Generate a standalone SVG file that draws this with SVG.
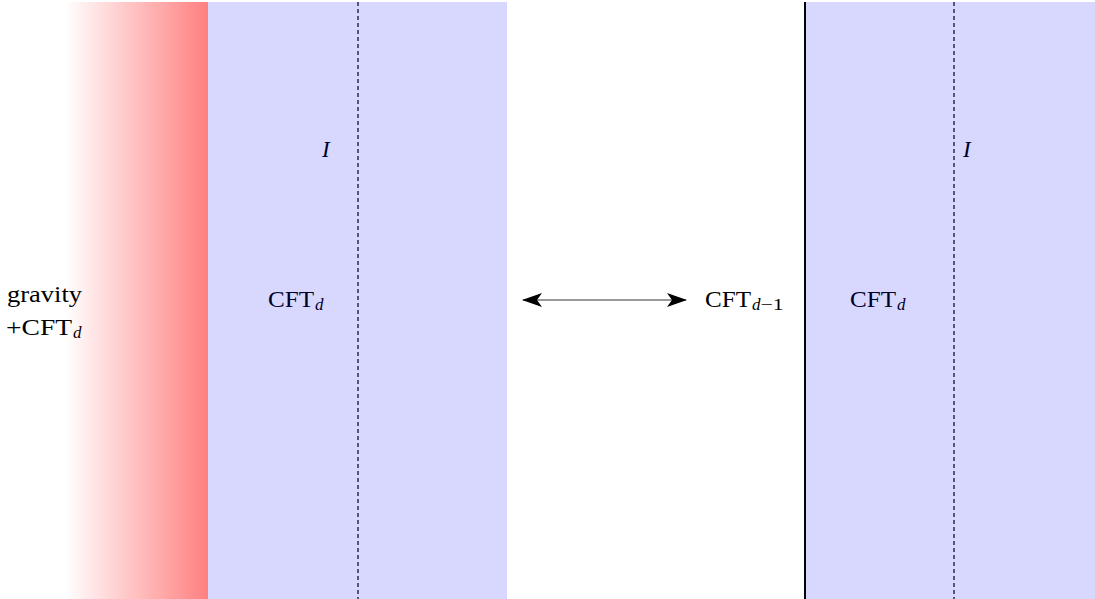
<svg xmlns="http://www.w3.org/2000/svg" width="1095" height="599" viewBox="0 0 1095 599">
<defs>
<linearGradient id="grav" x1="0" y1="0" x2="1" y2="0">
<stop offset="0" stop-color="#ff0000" stop-opacity="0"/>
<stop offset="1" stop-color="#ff0000" stop-opacity="0.5"/>
</linearGradient>
<marker id="stealth" viewBox="0 0 20 16" refX="19" refY="8" markerWidth="20" markerHeight="16" markerUnits="userSpaceOnUse" orient="auto-start-reverse">
<path d="M0,1 L20,8 L0,15 L5,8 Z" fill="#000"/>
</marker>
<style>
text{font-family:"Liberation Serif","DejaVu Serif",serif;fill:#000}
.lbl{font-size:23px}
.sub{font-size:17px;font-style:italic}
.up{font-style:normal}
.it{font-size:23px;font-style:italic}
.dash{stroke:#000;stroke-width:1.2;stroke-dasharray:4 3;fill:none}
.blue{fill:#0000ff;fill-opacity:0.153}
</style>
</defs>
<rect width="1095" height="599" fill="#fff"/>
<g id="left-region">
<line class="dash" x1="358" y1="2" x2="358" y2="599"/>
<text class="it" x="322" y="157">I</text>
<text x="268" y="307"><tspan class="lbl" textLength="46" lengthAdjust="spacingAndGlyphs">CFT</tspan><tspan class="sub" dx="1" dy="3">d</tspan></text>
<rect class="blue" x="208" y="2" width="299" height="597"/>
</g>
<g id="gravity">
<text class="lbl" x="7" y="302" textLength="75" lengthAdjust="spacingAndGlyphs">gravity</text>
<text x="6" y="335"><tspan class="lbl" textLength="66" lengthAdjust="spacingAndGlyphs">+CFT</tspan><tspan class="sub" dx="1" dy="3">d</tspan></text>
<rect x="65" y="2" width="143" height="597" fill="url(#grav)"/>
</g>
<g id="right-region">
<line class="dash" x1="954" y1="2" x2="954" y2="599"/>
<text class="it" x="963" y="157">I</text>
<text x="850" y="307"><tspan class="lbl" textLength="46" lengthAdjust="spacingAndGlyphs">CFT</tspan><tspan class="sub" dx="1" dy="3">d</tspan></text>
<rect class="blue" x="806" y="2" width="289" height="597"/>
<line x1="805" y1="2" x2="805" y2="599" stroke="#000" stroke-width="2"/>
</g>
<g id="cft-d-1">
<text x="705" y="307"><tspan class="lbl" textLength="46" lengthAdjust="spacingAndGlyphs">CFT</tspan><tspan class="sub" dx="1" dy="3">d</tspan><tspan class="sub up" textLength="23" lengthAdjust="spacingAndGlyphs">−1</tspan></text>
</g>
<g id="connectors">
<line x1="523" y1="300" x2="686" y2="300" stroke="#777" stroke-width="1.5" marker-start="url(#stealth)" marker-end="url(#stealth)"/>
</g>
</svg>
